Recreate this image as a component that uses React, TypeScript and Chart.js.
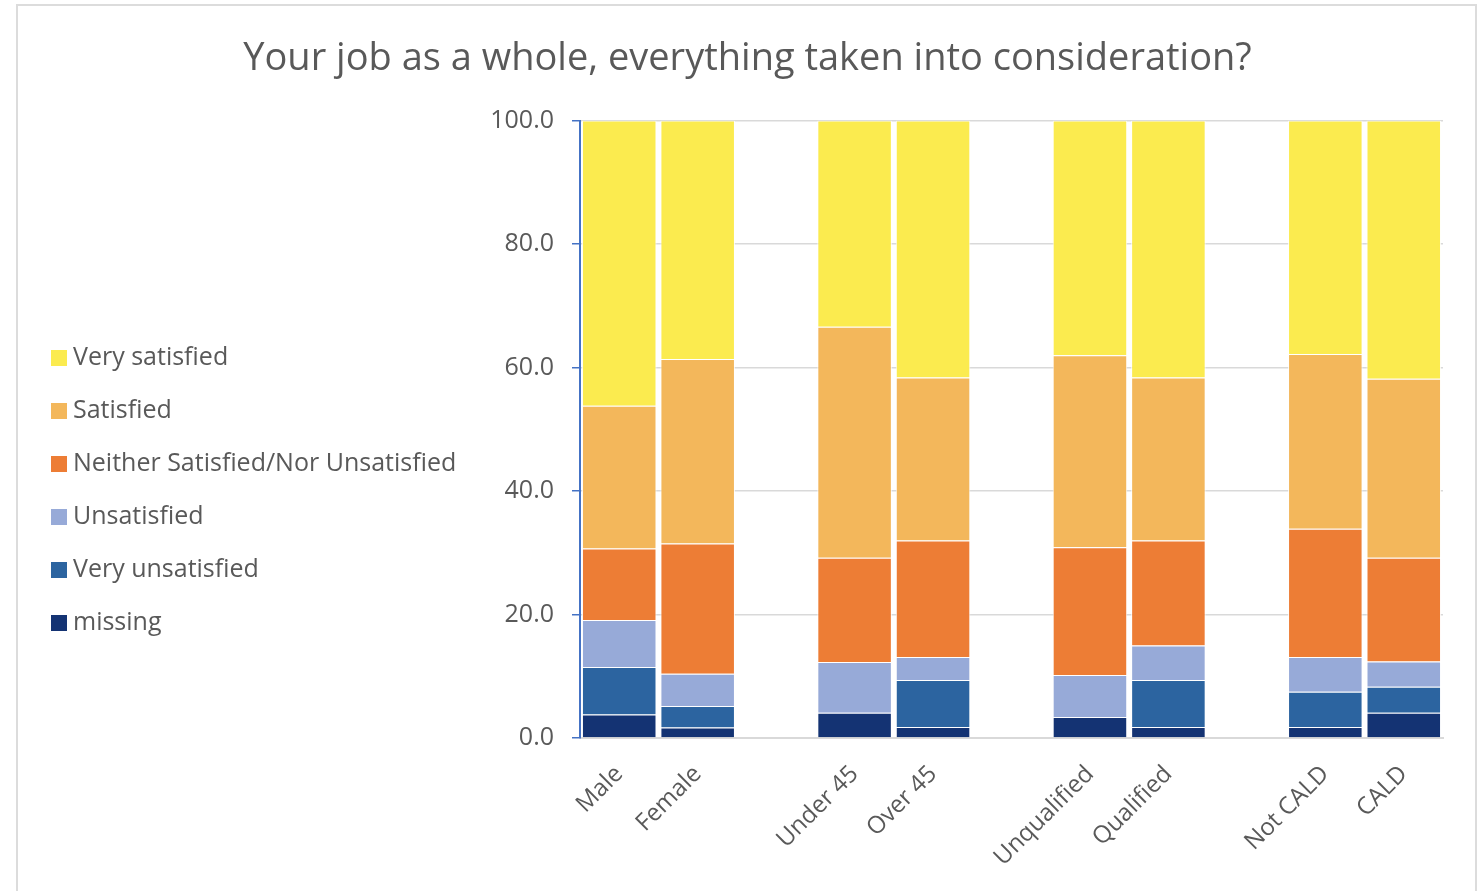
import React, { useEffect, useRef } from "react";
import { Chart, registerables } from "chart.js";

Chart.register(...registerables);

// Group labels; blank entries leave a gap between the pairs
const CATEGORIES = ["Male", "Female", "", "Under 45", "Over 45", "", "Unqualified", "Qualified", "", "Not CALD", "CALD"];

// Percentages per response, stacked from the bottom up
const MISSING = [3.8, 1.7, null, 4.1, 1.8, null, 3.4, 1.8, null, 1.8, 4.1];
const VERY_UNSATISFIED = [7.7, 3.5, null, 0, 7.6, null, 0, 7.6, null, 5.7, 4.2];
const UNSATISFIED = [7.6, 5.2, null, 8.2, 3.7, null, 6.8, 5.6, null, 5.6, 4.1];
const NEITHER = [11.6, 21.1, null, 16.9, 18.9, null, 20.7, 17.0, null, 20.8, 16.8];
const SATISFIED = [23.1, 29.9, null, 37.4, 26.4, null, 31.1, 26.4, null, 28.3, 29.0];
const VERY_SATISFIED = [46.2, 38.6, null, 33.4, 41.6, null, 38.0, 41.6, null, 37.8, 41.8];

const Y_TICKS = [0, 20, 40, 60, 80, 100];

const TITLE = "Your job as a whole, everything taken into consideration?";
const FONT = "'Open Sans', 'Noto Sans', sans-serif";
const TEXT = "#595959";

const SERIES = [
  { label: "missing", data: MISSING, color: "#143373" },
  { label: "Very unsatisfied", data: VERY_UNSATISFIED, color: "#2C64A0" },
  { label: "Unsatisfied", data: UNSATISFIED, color: "#97AAD8" },
  { label: "Neither Satisfied/Nor Unsatisfied", data: NEITHER, color: "#ED7D35" },
  { label: "Satisfied", data: SATISFIED, color: "#F3B75B" },
  { label: "Very satisfied", data: VERY_SATISFIED, color: "#FBEB4F" },
];

// Outer frame around the whole chart
const framePlugin = {
  id: "frame",
  beforeDraw(chart: any) {
    const { ctx } = chart;
    ctx.save();
    ctx.fillStyle = "#ffffff";
    ctx.fillRect(0, 0, chart.width, chart.height);
    ctx.strokeStyle = "#dcdcdc";
    ctx.lineWidth = 2;
    ctx.strokeRect(17, 5, chart.width - 19, chart.height + 10);
    ctx.restore();
  },
};

// Vertical legend at the left, top entry = top segment of the stack
const sideLegendPlugin = {
  id: "sideLegend",
  afterDraw(chart: any) {
    const { ctx } = chart;
    const sets = chart.data.datasets.slice().reverse();
    ctx.save();
    ctx.font = `25px ${FONT}`;
    ctx.textBaseline = "middle";
    ctx.textAlign = "left";
    sets.forEach((ds: any, i: number) => {
      const cy = 358 + i * 53;
      ctx.fillStyle = ds.backgroundColor;
      ctx.fillRect(51, cy - 8, 16, 16);
      ctx.fillStyle = TEXT;
      ctx.fillText(ds.label, 73, cy);
    });
    ctx.restore();
  },
};

export default function App() {
  const canvasRef = useRef<HTMLCanvasElement | null>(null);

  useEffect(() => {
    if (!canvasRef.current) return;
    const chart = new Chart(canvasRef.current, {
      type: "bar",
      data: {
        labels: CATEGORIES,
        datasets: SERIES.map((s) => ({
          label: s.label,
          data: s.data,
          backgroundColor: s.color,
          borderColor: "rgba(255,255,255,0.85)",
          borderWidth: 1,
          barPercentage: 0.95,
          categoryPercentage: 1,
        })),
      },
      options: {
        animation: false,
        responsive: true,
        maintainAspectRatio: false,
        layout: { padding: { left: 52, right: 35, top: 0, bottom: 0 } },
        plugins: {
          legend: { display: false },
          tooltip: { enabled: false },
          title: {
            display: true,
            text: TITLE,
            color: TEXT,
            font: { family: FONT, size: 38, weight: "normal" },
            padding: { top: 36, bottom: 39 },
          },
        },
        scales: {
          x: {
            stacked: true,
            grid: { display: false },
            border: { display: true, color: "#d9d9d9", width: 2 },
            ticks: {
              color: TEXT,
              font: { family: FONT, size: 24 },
              minRotation: 45,
              maxRotation: 45,
              autoSkip: false,
              padding: 14,
            },
            afterFit(scale: any) {
              scale.height = 153;
            },
          },
          y: {
            stacked: true,
            min: 0,
            max: 100,
            afterBuildTicks(scale: any) {
              scale.ticks = Y_TICKS.map((v) => ({ value: v }));
            },
            grid: { color: "#d9d9d9", lineWidth: 1.5, tickLength: 8, tickColor: "#4472C4" },
            border: { display: true, color: "#4472C4", width: 2 },
            ticks: {
              color: TEXT,
              font: { family: FONT, size: 25 },
              padding: 18,
              callback: (v: any) => Number(v).toFixed(1),
            },
            afterFit(scale: any) {
              scale.width = 528;
            },
          },
        },
      },
      plugins: [framePlugin, sideLegendPlugin],
    });
    return () => chart.destroy();
  }, []);

  return (
    <div style={{ position: "absolute", left: 0, top: 0, width: 1478, height: 891 }}>
      <canvas ref={canvasRef} />
    </div>
  );
}
